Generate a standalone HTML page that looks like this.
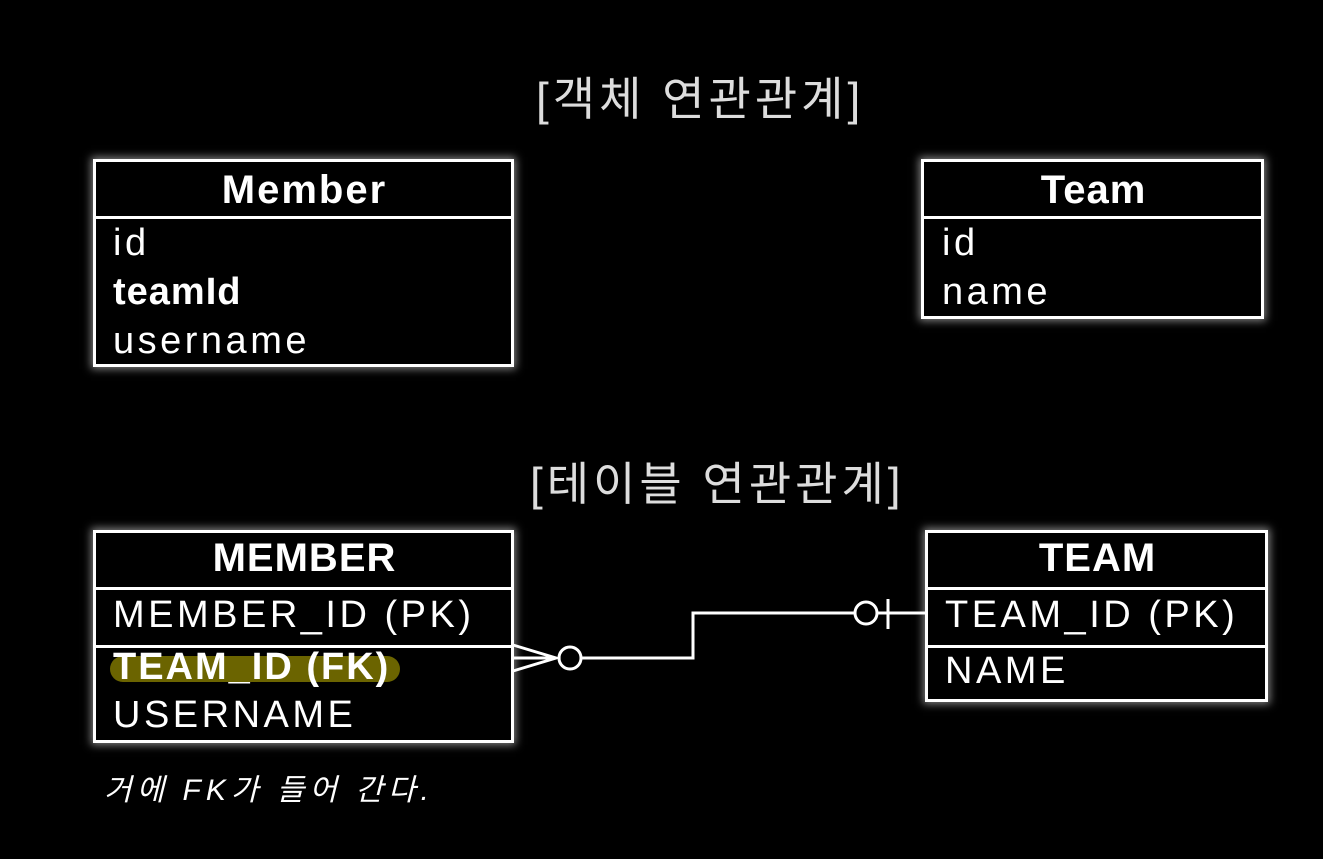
<!DOCTYPE html>
<html><head><meta charset="utf-8"><style>
body{margin:0;background:#000;width:1323px;height:859px;overflow:hidden;position:relative;font-family:"Liberation Sans","Noto Sans CJK KR",sans-serif;color:#fff}
.t{position:absolute;white-space:nowrap;line-height:1}
.r{letter-spacing:3.5px}
.box{position:absolute;border:3px solid #fff;box-shadow:0 0 8px 2px rgba(255,255,255,.5)}
.hl{position:absolute;height:3px;background:#fff;left:0;right:0}
</style></head><body>
<div class="t" style="left:536px;top:76px;font-size:46px;color:#ddd;letter-spacing:4px">[객체 연관관계]</div>
<div class="t" style="left:530px;top:461px;font-size:46px;color:#ddd;letter-spacing:4px">[테이블 연관관계]</div>

<div class="box" style="left:93px;top:159px;width:415px;height:202px"><div class="hl" style="top:54px"></div></div>
<div class="t" style="left:94px;width:421px;text-align:center;top:170px;font-size:40px;font-weight:bold;letter-spacing:2px">Member</div>
<div class="t r" style="left:113px;top:224px;font-size:38px">id</div>
<div class="t" style="left:113px;top:273px;font-size:38px;font-weight:bold;letter-spacing:1px">teamId</div>
<div class="t r" style="left:113px;top:322px;font-size:38px">username</div>

<div class="box" style="left:921px;top:159px;width:337px;height:154px"><div class="hl" style="top:54px"></div></div>
<div class="t" style="left:922px;width:343px;text-align:center;top:170px;font-size:40px;font-weight:bold;letter-spacing:1px">Team</div>
<div class="t r" style="left:942px;top:224px;font-size:38px">id</div>
<div class="t r" style="left:942px;top:273px;font-size:38px">name</div>

<div style="position:absolute;left:110px;top:656px;width:290px;height:26px;border-radius:13px;background:#6b6400"></div>
<div class="box" style="left:93px;top:530px;width:415px;height:207px"><div class="hl" style="top:54px"></div><div class="hl" style="top:112px"></div></div>
<div class="t" style="left:94px;width:421px;text-align:center;top:538px;font-size:40px;font-weight:bold;letter-spacing:1px">MEMBER</div>
<div class="t r" style="left:113px;top:596px;font-size:38px">MEMBER_ID (PK)</div>
<div class="t" style="left:113px;top:648px;font-size:38px;font-weight:bold;letter-spacing:2px">TEAM_ID (FK)</div>
<div class="t r" style="left:113px;top:696px;font-size:38px">USERNAME</div>

<div class="box" style="left:925px;top:530px;width:337px;height:166px"><div class="hl" style="top:54px"></div><div class="hl" style="top:112px"></div></div>
<div class="t" style="left:926px;width:343px;text-align:center;top:538px;font-size:40px;font-weight:bold;letter-spacing:1px">TEAM</div>
<div class="t r" style="left:945px;top:596px;font-size:38px">TEAM_ID (PK)</div>
<div class="t r" style="left:945px;top:652px;font-size:38px">NAME</div>

<svg style="position:absolute;left:0;top:0" width="1323" height="859">
<g stroke="#fff" stroke-width="3" fill="none">
<path d="M513 645 L556 658 L513 671 M513 658 L556 658"/>
<circle cx="570" cy="658" r="11"/>
<path d="M581 658 H693 V613 H855"/>
<circle cx="866" cy="613" r="11"/>
<path d="M888 599 V629 M877 613 H926"/>
</g>
</svg>
<div class="t" style="left:104px;top:776px;font-size:30px;font-style:italic;color:#fff;letter-spacing:5px">거에 FK가 들어 간다.</div>
</body></html>
